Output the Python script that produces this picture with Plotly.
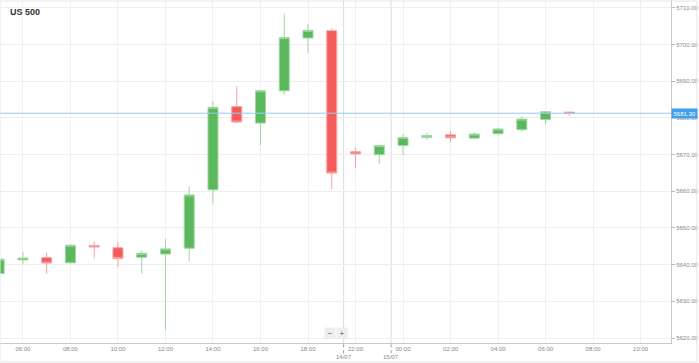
import plotly.graph_objects as go

# ---- data ----
hours = ["05:00", "06:00", "07:00", "08:00", "09:00", "10:00", "11:00", "12:00", "13:00",
         "14:00", "15:00", "16:00", "17:00", "18:00", "19:00", "22:00", "23:00", "00:00",
         "01:00", "02:00", "03:00", "04:00", "05:00", "06:00", "07:00"]
opens = [5637.6, 5641.3, 5641.9, 5640.5, 5645.2, 5644.6, 5642.0, 5642.9, 5644.5,
         5660.4, 5683.1, 5678.6, 5687.4, 5701.8, 5703.8, 5670.8, 5670.0, 5672.5,
         5674.7, 5675.4, 5674.5, 5675.7, 5676.8, 5679.6, 5681.6]
highs = [5641.8, 5643.5, 5643.3, 5645.5, 5646.3, 5646.3, 5643.8, 5647.0, 5661.3,
         5684.6, 5688.7, 5687.6, 5708.4, 5705.6, 5704.5, 5672.0, 5672.6, 5675.6,
         5675.9, 5676.4, 5676.1, 5677.4, 5680.4, 5681.9, 5681.7]
lows = [5637.3, 5640.1, 5637.6, 5640.3, 5641.7, 5639.4, 5637.6, 5622.2, 5640.8,
        5656.7, 5678.5, 5672.6, 5686.3, 5697.8, 5660.6, 5666.3, 5667.5, 5669.9,
        5674.1, 5673.3, 5674.4, 5675.3, 5676.3, 5678.3, 5680.6]
closes = [5641.5, 5641.8, 5640.45, 5645.3, 5644.8, 5641.7, 5643.1, 5644.3, 5659.0,
          5682.9, 5678.9, 5687.4, 5701.9, 5703.9, 5665.0, 5670.2, 5672.5, 5674.7,
          5675.2, 5674.6, 5675.6, 5677.0, 5679.7, 5681.7, 5681.3]
last_price = 5681.30

tick_pos = [1, 3, 5, 7, 9, 11, 13, 15, 17, 19, 21, 23, 25, 27]
tick_text = ["06:00", "08:00", "10:00", "12:00", "14:00", "16:00", "18:00", "22:00",
             "00:00", "02:00", "04:00", "06:00", "08:00", "10:00"]
date_pos = [14.5, 16.5]
date_text = ["14/07", "15/07"]
price_ticks = [5620, 5630, 5640, 5650, 5660, 5670, 5680, 5690, 5700, 5710]

idx = list(range(len(hours)))
FONT = "Arial, Liberation Sans, sans-serif"

fig = go.Figure()
fig.add_trace(go.Candlestick(
    x=idx, open=opens, high=highs, low=lows, close=closes,
    text=hours, hoverinfo="text",
    increasing=dict(line=dict(color="#9fd79f", width=1), fillcolor="#5cb85c"),
    decreasing=dict(line=dict(color="#f9a0a0", width=1), fillcolor="#f45b5b"),
    whiskerwidth=0, showlegend=False,
))

shapes = []
for d in date_pos:
    shapes.append(dict(type="line", xref="x", yref="paper", x0=d, x1=d, y0=0, y1=1,
                       line=dict(color="#dcdcdc", width=1), layer="below"))
    shapes.append(dict(type="line", xref="x", yref="paper", x0=d, x1=d, y0=-0.03, y1=0,
                       line=dict(color="#999999", width=1, dash="dot")))
shapes.append(dict(type="line", xref="paper", yref="y", x0=0, x1=1.0, y0=last_price, y1=last_price,
                   line=dict(color="#92cdf5", width=1)))
shapes.append(dict(type="rect", xref="paper", yref="paper", x0=0, x1=1.0385, y0=-0.055, y1=0.997,
                   line=dict(color="#e6e6e6", width=1), fillcolor="rgba(0,0,0,0)"))

annotations = [
    dict(text="<b>US 500</b>", xref="paper", yref="paper", x=0.012, y=0.985,
         xanchor="left", yanchor="top", showarrow=False,
         font=dict(size=9, color="#333333", family=FONT)),
    dict(text="5681.30", xref="paper", yref="y", x=1.0, y=last_price, xanchor="left",
         yanchor="middle", showarrow=False, bgcolor="#3d9ff0", borderpad=1.5,
         font=dict(size=6, color="white", family=FONT)),
    dict(text="−", xref="paper", yref="paper", x=331 / 673, y=10 / 343, xanchor="center",
         yanchor="middle", showarrow=False, bgcolor="#eeeeee", width=8, height=8,
         font=dict(size=8, color="#555555")),
    dict(text="+", xref="paper", yref="paper", x=343 / 673, y=10 / 343, xanchor="center",
         yanchor="middle", showarrow=False, bgcolor="#eeeeee", width=8, height=8,
         font=dict(size=8, color="#555555")),
]
for d, t in zip(date_pos, date_text):
    annotations.append(dict(text=t, xref="x", yref="paper", x=d, y=-14 / 343, xanchor="center",
                            yanchor="middle", showarrow=False,
                            font=dict(size=6, color="#888888", family=FONT)))

fig.update_layout(
    width=699, height=363,
    margin=dict(l=0, r=26, t=0, b=20),
    paper_bgcolor="white", plot_bgcolor="white",
    boxgap=0.4,
    shapes=shapes, annotations=annotations,
    font=dict(family=FONT, size=6, color="#888888"),
    xaxis=dict(range=[0.035, 28.28], tickvals=tick_pos, ticktext=tick_text,
               showgrid=True, gridcolor="#f0f0f0", gridwidth=1,
               showline=True, linecolor="#c8c8c8", linewidth=1,
               ticks="", rangeslider=dict(visible=False), zeroline=False,
               tickfont=dict(size=6, color="#888888")),
    yaxis=dict(range=[5618.64, 5712.17], side="right", tickvals=price_ticks,
               tickformat=".2f", showgrid=True, gridcolor="#eeeeee",
               showline=True, linecolor="#c8c8c8", linewidth=1,
               ticks="outside", ticklen=3, tickcolor="#bbbbbb",
               zeroline=False, tickfont=dict(size=6, color="#888888")),
)

fig.write_html("out.html", config={"displayModeBar": False},
               post_script="document.body.style.margin='0px';document.body.style.overflow='hidden';")
